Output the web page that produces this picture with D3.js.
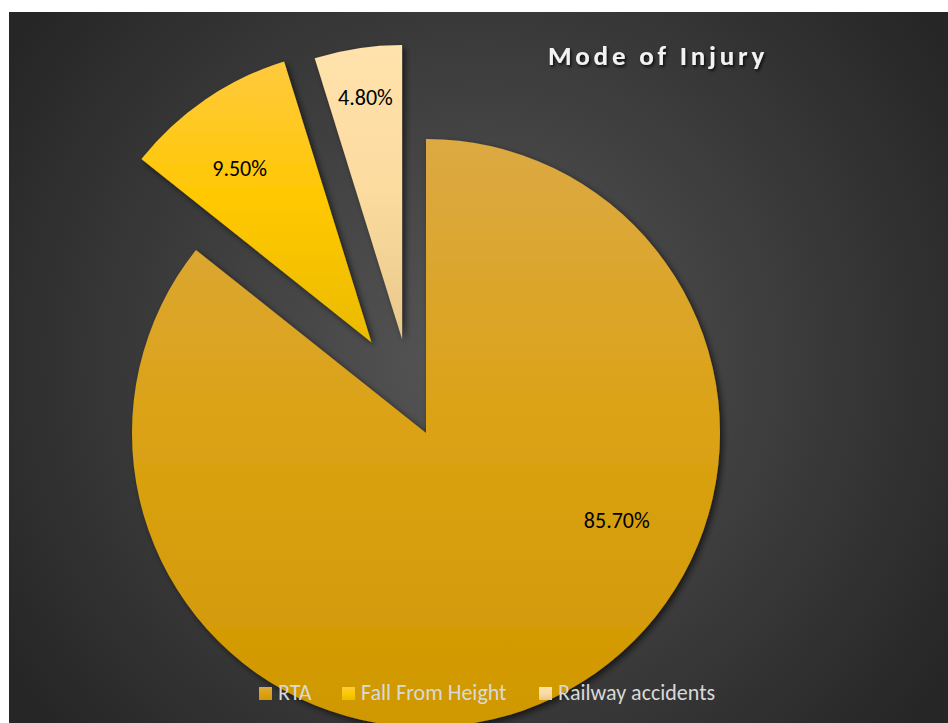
<!DOCTYPE html>
<html>
<head>
<meta charset="utf-8">
<script src="https://cdn.jsdelivr.net/npm/d3@7"></script>
<style>
  html, body { margin: 0; padding: 0; background: #fff; }
  svg { display: block; }
</style>
</head>
<body>
<script>
// chart data
let categories = ['RTA', 'Fall From Height', 'Railway accidents'];
let shares = [85.7, 9.5, 4.8];
let shareLabels = ['85.70%', '9.50%', '4.80%'];

let width = 948, height = 723;
let cx = 426, cy = 433, radius = 294;

// slice looks (excel style gradients), explode offset, label placing
let gradStops = [
  ['#dca943', '#dba214', '#d09800'],
  ['#ffc93e', '#ffc800', '#ebbb00'],
  ['#ffe2ac', '#fcdb9f', '#e8c88a']
];
let explode = [null, { dist: 106, deg: 329 }, { dist: 97, deg: 345.7 }];
let labelPlace = [{ deg: 114.7, r: 210 }, { deg: 322.8, r: 218 }, { deg: null, r: 244 }];

let svg = d3.select('body').append('svg')
  .attr('width', width)
  .attr('height', height);

let defs = svg.append('defs');

let bg = defs.append('radialGradient')
  .attr('id', 'bg')
  .attr('gradientUnits', 'userSpaceOnUse')
  .attr('cx', 480).attr('cy', 360).attr('r', 560);
bg.append('stop').attr('offset', '0%').attr('stop-color', '#575757');
bg.append('stop').attr('offset', '100%').attr('stop-color', '#262626');

gradStops.forEach(function (s, i) {
  let g = defs.append('linearGradient')
    .attr('id', 'slice' + i)
    .attr('x1', 0).attr('y1', 0).attr('x2', 0).attr('y2', 1);
  g.append('stop').attr('offset', '0%').attr('stop-color', s[0]);
  g.append('stop').attr('offset', '50%').attr('stop-color', s[1]);
  g.append('stop').attr('offset', '100%').attr('stop-color', s[2]);
});

let shadow = defs.append('filter').attr('id', 'shadow')
  .attr('x', '-20%').attr('y', '-20%').attr('width', '140%').attr('height', '140%');
shadow.append('feDropShadow')
  .attr('dx', 3).attr('dy', 3).attr('stdDeviation', 3)
  .attr('flood-color', '#000').attr('flood-opacity', 0.6);

let tshadow = defs.append('filter').attr('id', 'tshadow')
  .attr('x', '-10%').attr('y', '-30%').attr('width', '120%').attr('height', '160%');
tshadow.append('feDropShadow')
  .attr('dx', 1.5).attr('dy', 2).attr('stdDeviation', 1.5)
  .attr('flood-color', '#000').attr('flood-opacity', 0.8);

// background panel
svg.append('rect')
  .attr('x', 9).attr('y', 12)
  .attr('width', width - 9).attr('height', height - 12)
  .attr('fill', 'url(#bg)');

let pie = d3.pie().sort(null).value(function (d) { return d; });
let arcs = pie(shares);

let arc = d3.arc().innerRadius(0).outerRadius(radius);

function polar(deg, r) {
  let a = deg * Math.PI / 180;
  return [Math.sin(a) * r, -Math.cos(a) * r];
}

let g = svg.append('g').attr('transform', 'translate(' + cx + ',' + cy + ')');

let slices = g.selectAll('.slice')
  .data(arcs)
  .enter()
  .append('g')
  .attr('class', 'slice')
  .attr('transform', function (d, i) {
    if (!explode[i]) return null;
    let p = polar(explode[i].deg, explode[i].dist);
    return 'translate(' + p[0] + ',' + p[1] + ')';
  });

slices.append('path')
  .attr('d', arc)
  .attr('fill', function (d, i) { return 'url(#slice' + i + ')'; })
  .attr('filter', 'url(#shadow)');

slices.append('text')
  .attr('transform', function (d, i) {
    let lp = labelPlace[i];
    let deg = lp.deg != null ? lp.deg : (d.startAngle + d.endAngle) / 2 * 180 / Math.PI;
    let p = polar(deg, lp.r);
    return 'translate(' + p[0] + ',' + p[1] + ')';
  })
  .attr('text-anchor', 'middle')
  .attr('dy', '0.35em')
  .attr('font-family', 'Carlito, Lato, sans-serif')
  .attr('font-size', 22)
  .attr('fill', '#000')
  .text(function (d, i) { return shareLabels[i]; });

// title
svg.append('text')
  .attr('x', 658).attr('y', 65)
  .attr('text-anchor', 'middle')
  .attr('font-family', 'Carlito, Lato, sans-serif')
  .attr('font-weight', 'bold')
  .attr('font-size', 27)
  .attr('letter-spacing', 3.8)
  .attr('fill', '#f2f2f2')
  .attr('filter', 'url(#tshadow)')
  .text('Mode of Injury');

// legend
let legendX = [259, 342, 539];
let legend = svg.selectAll('.legend')
  .data(categories)
  .enter()
  .append('g')
  .attr('class', 'legend')
  .attr('transform', function (d, i) { return 'translate(' + legendX[i] + ',687)'; });

legend.append('rect')
  .attr('width', 13).attr('height', 13)
  .attr('fill', function (d, i) { return 'url(#slice' + i + ')'; });

legend.append('text')
  .attr('x', 19).attr('y', 13)
  .attr('font-family', 'Carlito, Lato, sans-serif')
  .attr('font-size', 22)
  .attr('fill', '#d9d9d9')
  .text(function (d) { return d; });
</script>
</body>
</html>
